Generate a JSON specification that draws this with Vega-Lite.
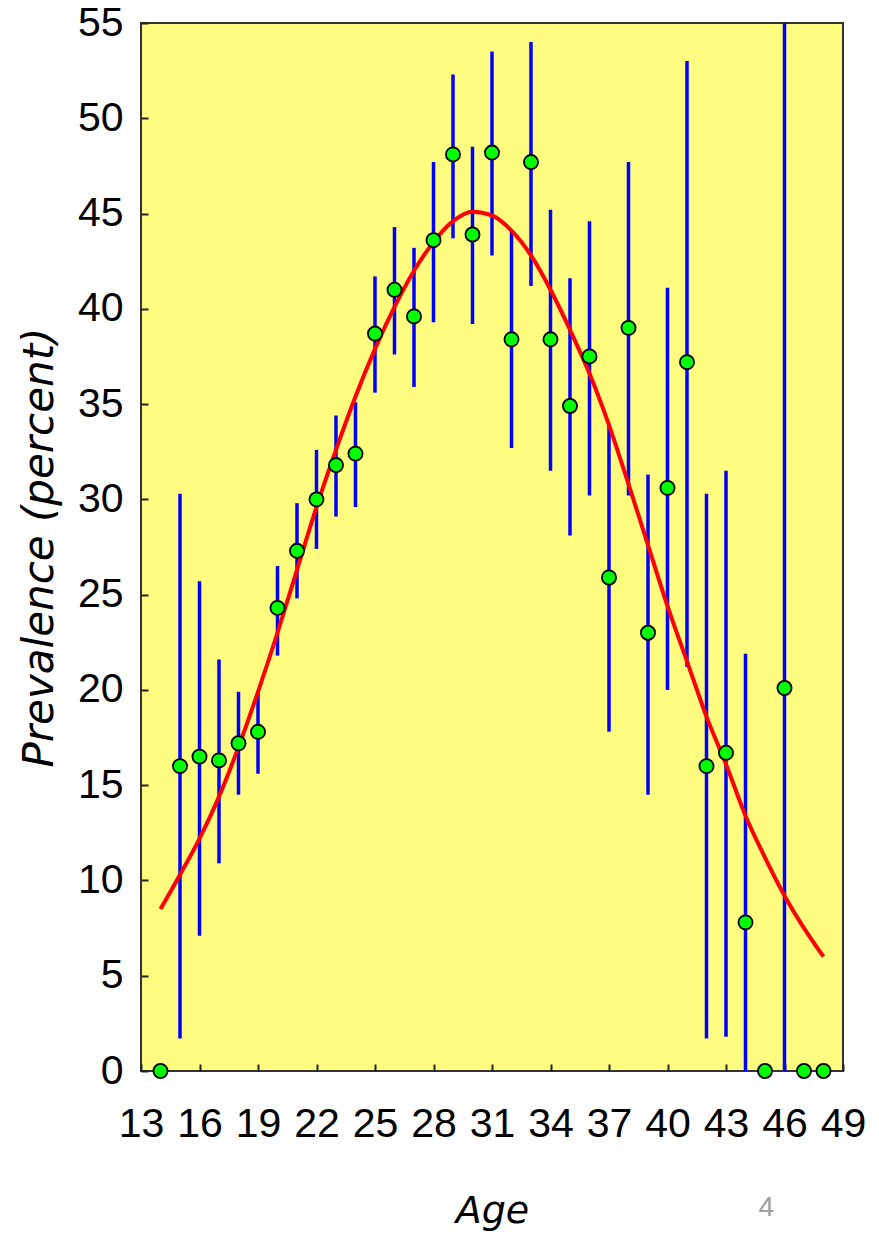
{
  "$schema": "https://vega.github.io/schema/vega-lite/v6.json",
  "width": 702,
  "height": 1048,
  "autosize": {"type": "none"},
  "padding": {"left": 141, "top": 23, "right": 36, "bottom": 167},
  "background": "white",
  "title": {
    "text": "4",
    "orient": "bottom",
    "anchor": "end",
    "frame": "group",
    "font": "Liberation Sans",
    "fontSize": 28,
    "fontWeight": "normal",
    "color": "#A0A0A0",
    "dx": -69,
    "dy": -40
  },
  "config": {
    "view": {"fill": "#FFFC80", "stroke": "#333333", "strokeWidth": 2},
    "axis": {
      "grid": false,
      "domain": false,
      "tickColor": "#222222",
      "tickWidth": 2,
      "tickSize": -7,
      "labelFont": "Liberation Sans",
      "labelFontSize": 41,
      "labelColor": "#000000",
      "labelFlush": false,
      "labelOverlap": false,
      "titleFont": "DejaVu Sans",
      "titleFontStyle": "italic",
      "titleFontWeight": "normal",
      "titleColor": "#000000"
    }
  },
  "datasets": {
    "pts": [
      {"age": 14, "p": 0},
      {"age": 15, "p": 16.0, "lo": 1.7, "hi": 30.3},
      {"age": 16, "p": 16.5, "lo": 7.1, "hi": 25.7},
      {"age": 17, "p": 16.3, "lo": 10.9, "hi": 21.6},
      {"age": 18, "p": 17.2, "lo": 14.5, "hi": 19.9},
      {"age": 19, "p": 17.8, "lo": 15.6, "hi": 19.9},
      {"age": 20, "p": 24.3, "lo": 21.8, "hi": 26.5},
      {"age": 21, "p": 27.3, "lo": 24.8, "hi": 29.8},
      {"age": 22, "p": 30.0, "lo": 27.4, "hi": 32.6},
      {"age": 23, "p": 31.8, "lo": 29.1, "hi": 34.4},
      {"age": 24, "p": 32.4, "lo": 29.6, "hi": 35.1},
      {"age": 25, "p": 38.7, "lo": 35.6, "hi": 41.7},
      {"age": 26, "p": 41.0, "lo": 37.6, "hi": 44.3},
      {"age": 27, "p": 39.6, "lo": 35.9, "hi": 43.2},
      {"age": 28, "p": 43.6, "lo": 39.3, "hi": 47.7},
      {"age": 29, "p": 48.1, "lo": 43.7, "hi": 52.3},
      {"age": 30, "p": 43.9, "lo": 39.2, "hi": 48.5},
      {"age": 31, "p": 48.2, "lo": 42.8, "hi": 53.5},
      {"age": 32, "p": 38.4, "lo": 32.7, "hi": 44.1},
      {"age": 33, "p": 47.7, "lo": 41.2, "hi": 54.0},
      {"age": 34, "p": 38.4, "lo": 31.5, "hi": 45.2},
      {"age": 35, "p": 34.9, "lo": 28.1, "hi": 41.6},
      {"age": 36, "p": 37.5, "lo": 30.2, "hi": 44.6},
      {"age": 37, "p": 25.9, "lo": 17.8, "hi": 34.0},
      {"age": 38, "p": 39.0, "lo": 30.2, "hi": 47.7},
      {"age": 39, "p": 23.0, "lo": 14.5, "hi": 31.3},
      {"age": 40, "p": 30.6, "lo": 20.0, "hi": 41.1},
      {"age": 41, "p": 37.2, "lo": 21.2, "hi": 53.0},
      {"age": 42, "p": 16.0, "lo": 1.7, "hi": 30.3},
      {"age": 43, "p": 16.7, "lo": 1.8, "hi": 31.5},
      {"age": 44, "p": 7.8, "lo": 0, "hi": 21.9},
      {"age": 45, "p": 0},
      {"age": 46, "p": 20.1, "lo": 0, "hi": 55},
      {"age": 47, "p": 0},
      {"age": 48, "p": 0}
    ],
    "curve": [
      {"age": 14, "fit": 8.5},
      {"age": 15, "fit": 10.3},
      {"age": 16, "fit": 12.2},
      {"age": 17, "fit": 14.4},
      {"age": 18, "fit": 17.0},
      {"age": 19, "fit": 19.9},
      {"age": 20, "fit": 23.0},
      {"age": 21, "fit": 26.3},
      {"age": 22, "fit": 29.6},
      {"age": 23, "fit": 32.6},
      {"age": 24, "fit": 35.4},
      {"age": 25, "fit": 37.9},
      {"age": 26, "fit": 40.1},
      {"age": 27, "fit": 42.0},
      {"age": 28, "fit": 43.5},
      {"age": 29, "fit": 44.6},
      {"age": 30, "fit": 45.1},
      {"age": 31, "fit": 44.9},
      {"age": 32, "fit": 44.1},
      {"age": 33, "fit": 42.8},
      {"age": 34, "fit": 41.0},
      {"age": 35, "fit": 38.9},
      {"age": 36, "fit": 36.6},
      {"age": 37, "fit": 33.9},
      {"age": 38, "fit": 30.8},
      {"age": 39, "fit": 27.6},
      {"age": 40, "fit": 24.4},
      {"age": 41, "fit": 21.5},
      {"age": 42, "fit": 18.6},
      {"age": 43, "fit": 16.1},
      {"age": 44, "fit": 13.4},
      {"age": 45, "fit": 11.2},
      {"age": 46, "fit": 9.2},
      {"age": 47, "fit": 7.5},
      {"age": 48, "fit": 6.0}
    ]
  },
  "encoding": {
    "x": {
      "type": "quantitative",
      "scale": {"domain": [13, 49], "nice": false, "zero": false},
      "axis": {
        "title": "Age",
        "values": [13, 16, 19, 22, 25, 28, 31, 34, 37, 40, 43, 46, 49],
        "labelPadding": 40,
        "titleFontSize": 38,
        "titlePadding": 48
      }
    },
    "y": {
      "type": "quantitative",
      "scale": {"domain": [0, 55], "nice": false},
      "axis": {
        "title": "Prevalence (percent)",
        "values": [0, 5, 10, 15, 20, 25, 30, 35, 40, 45, 50, 55],
        "labelPadding": 25,
        "titleFontSize": 42,
        "titlePadding": 16
      }
    }
  },
  "layer": [
    {
      "data": {"name": "pts"},
      "mark": {"type": "rule", "color": "#0000FF", "strokeWidth": 3.5},
      "encoding": {
        "x": {"field": "age", "type": "quantitative"},
        "y": {"field": "lo", "type": "quantitative"},
        "y2": {"field": "hi"}
      }
    },
    {
      "data": {"name": "curve"},
      "mark": {"type": "line", "color": "#FF0000", "strokeWidth": 4, "interpolate": "monotone"},
      "encoding": {
        "x": {"field": "age", "type": "quantitative"},
        "y": {"field": "fit", "type": "quantitative"}
      }
    },
    {
      "data": {"name": "pts"},
      "mark": {"type": "circle", "fill": "#00FF00", "stroke": "#000000", "strokeWidth": 1.8, "opacity": 1, "size": 200, "clip": false},
      "encoding": {
        "x": {"field": "age", "type": "quantitative"},
        "y": {"field": "p", "type": "quantitative"}
      }
    }
  ]
}
